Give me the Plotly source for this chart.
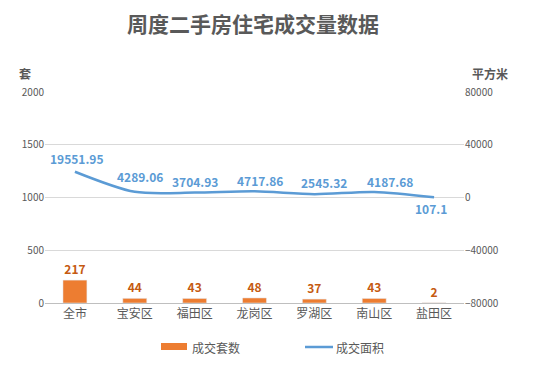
import plotly.graph_objects as go

categories = ["全市", "宝安区", "福田区", "龙岗区", "罗湖区", "南山区", "盐田区"]
units_sold = [217, 44, 43, 48, 37, 43, 2]
area_sold = [19551.95, 4289.06, 3704.93, 4717.86, 2545.32, 4187.68, 107.1]
left_ticks = [0, 500, 1000, 1500, 2000]
right_ticks = [-80000, -40000, 0, 40000, 80000]
right_tick_text = ["−80000", "−40000", "0", "40000", "80000"]

# label placement offsets (pixels) for the area labels
label_dx = [2, 5, 0, 5, 10, 16, -3]
label_dy = [13, 15, 11, 11, 12, 10, -11]

FONT = "Noto Sans CJK SC"
GRAY = "#595959"
ORANGE = "#ED7D31"
BLUE = "#5B9BD5"

W, H = 525, 358
L, R, T, B = 37, 69, 84, 63
pw = W - L - R
ph = H - T - B

fig = go.Figure()
fig.add_trace(go.Bar(
    x=categories, y=units_sold, name="成交套数",
    marker_color=ORANGE,
    text=[str(v) for v in units_sold], textposition="outside",
    textfont=dict(color="#C55A11", size=12, family=FONT, weight="bold"),
    cliponaxis=False,
))
fig.add_trace(go.Scatter(
    x=categories, y=area_sold, name="成交面积", yaxis="y2",
    mode="lines",
    line=dict(color=BLUE, width=2.5, shape="spline", smoothing=0.8),
    cliponaxis=False,
))


def px_to_paper(x, y):
    return (x - L) / pw, (H - B - y) / ph


annotations = []
for c, v, dx, dy in zip(categories, area_sold, label_dx, label_dy):
    annotations.append(dict(
        x=c, y=v, xref="x", yref="y2", text=f"<b>{v}</b>", showarrow=False,
        xanchor="center", yanchor="middle", xshift=dx, yshift=dy,
        font=dict(size=12, color=BLUE, family=FONT),
    ))

ax1, ay1 = px_to_paper(17, 65)
ax2, ay2 = px_to_paper(482, 65)
annotations += [
    dict(text="<b>套</b>", x=ax1, y=ay1, xref="paper", yref="paper",
         xanchor="center", yanchor="middle",
         showarrow=False, font=dict(size=12, color=GRAY, family=FONT)),
    dict(text="<b>平方米</b>", x=ax2, y=ay2, xref="paper", yref="paper",
         xanchor="center", yanchor="middle",
         showarrow=False, font=dict(size=12, color=GRAY, family=FONT)),
]

# custom legend
r0x, r0y = px_to_paper(153, 335)
r1x, r1y = px_to_paper(179, 342)
l0x, ly = px_to_paper(297, 339)
l1x, _ = px_to_paper(325, 339)
t1x, ty = px_to_paper(182, 339)
t2x, _ = px_to_paper(326, 339)
shapes = [
    dict(type="rect", xref="paper", yref="paper", x0=r0x, x1=r1x, y0=r0y, y1=r1y,
         fillcolor=ORANGE, line=dict(width=0)),
    dict(type="line", xref="paper", yref="paper", x0=l0x, x1=l1x, y0=ly, y1=ly,
         line=dict(color=BLUE, width=2.5)),
]
annotations += [
    dict(text="成交套数", x=t1x, y=ty, xref="paper", yref="paper",
         xanchor="left", yanchor="middle", showarrow=False,
         font=dict(size=12, color=GRAY, family=FONT)),
    dict(text="成交面积", x=t2x, y=ty, xref="paper", yref="paper",
         xanchor="left", yanchor="middle", showarrow=False,
         font=dict(size=12, color=GRAY, family=FONT)),
]

fig.update_layout(
    width=W, height=H,
    margin=dict(l=L, r=R, t=T, b=B, autoexpand=False),
    paper_bgcolor="white", plot_bgcolor="white",
    font=dict(family=FONT, color=GRAY),
    title=dict(text="<b>周度二手房住宅成交量数据</b>", x=245 / W, xanchor="center",
               y=1 - 17 / H, yanchor="middle",
               font=dict(size=21, color=GRAY, family=FONT)),
    bargap=0.6,
    showlegend=False,
    xaxis=dict(showline=True, linecolor="#BFBFBF", linewidth=1, ticks="",
               tickfont=dict(size=12, color=GRAY, family=FONT)),
    yaxis=dict(range=[0, 2000], tickvals=left_ticks, showgrid=True,
               gridcolor="#D9D9D9", zeroline=False,
               tickfont=dict(size=10, color=GRAY, family=FONT)),
    yaxis2=dict(range=[-80000, 80000], tickvals=right_ticks, ticktext=right_tick_text,
                overlaying="y", side="right", showgrid=False, zeroline=False,
                tickfont=dict(size=10, color=GRAY, family=FONT)),
    annotations=annotations,
    shapes=shapes,
)

fig.write_html("out.html")
